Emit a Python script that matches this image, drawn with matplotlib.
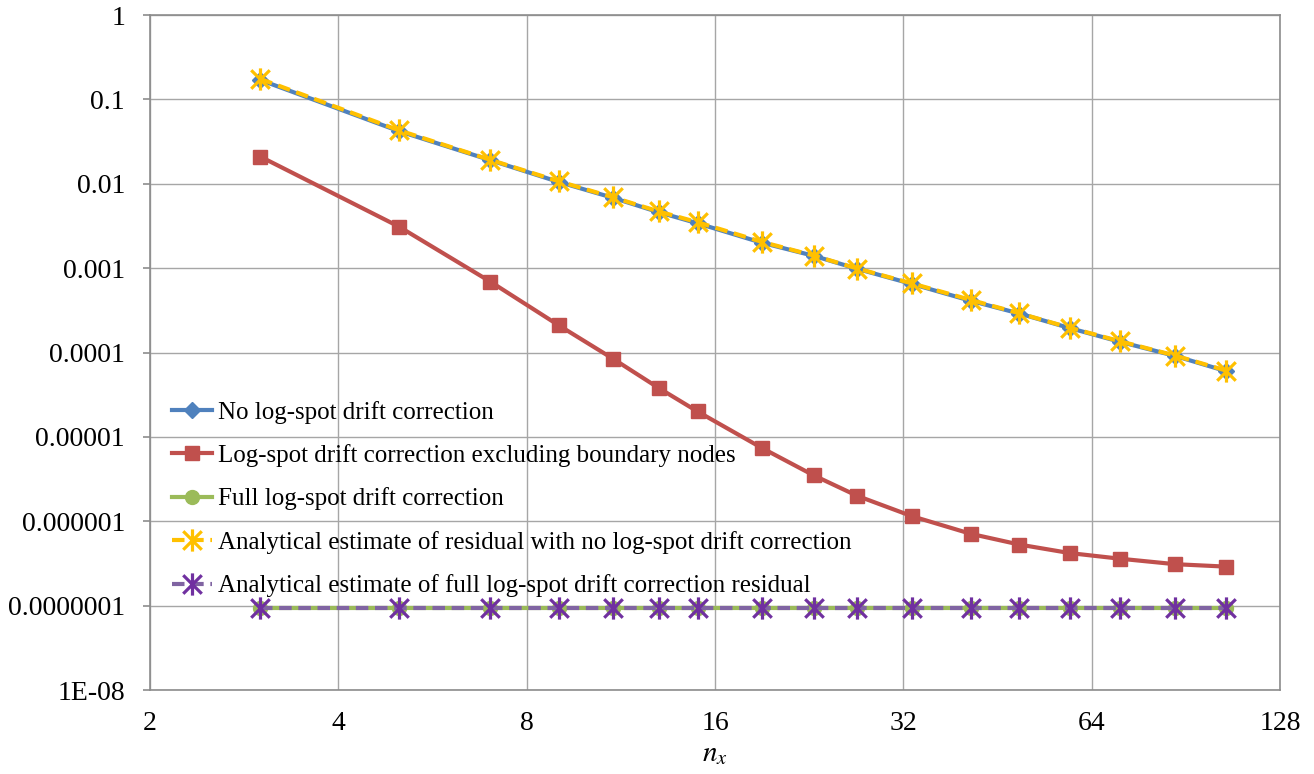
import matplotlib
matplotlib.use("Agg")
import matplotlib.pyplot as plt
from matplotlib.path import Path
from matplotlib.ticker import FixedLocator, NullLocator

plt.rcParams['font.family'] = ['Liberation Serif', 'DejaVu Serif']
plt.rcParams['mathtext.fontset'] = 'stix'

# data
nx = [3, 5, 7, 9, 11, 13, 15, 19, 23, 27, 33, 41, 49, 59, 71, 87, 105]
no_corr = [0.17, 0.042, 0.019, 0.0105, 0.0068, 0.0046, 0.0034, 0.0020, 0.0014, 0.00098,
           0.00065, 0.00041, 0.00029, 0.000195, 0.000134, 0.000091, 0.00006]
excl_boundary = [0.021, 0.0031, 0.00069, 0.00021, 0.000084, 0.000038, 0.00002, 0.0000074,
                 0.0000035, 0.0000020, 0.00000115, 7.1e-7, 5.3e-7, 4.2e-7, 3.6e-7, 3.1e-7, 2.9e-7]
full_corr = [9.4e-8] * len(nx)
est_no_corr = [0.175, 0.043, 0.0192, 0.0107, 0.0069, 0.0047, 0.0035, 0.00205, 0.00141, 0.00099,
               0.00066, 0.00042, 0.000292, 0.000197, 0.000136, 0.000092, 0.000061]
est_full = [9.4e-8] * len(nx)

labels = ["No log-spot drift correction",
          "Log-spot drift correction excluding boundary nodes",
          "Full log-spot drift correction",
          "Analytical estimate of residual with no log-spot drift correction",
          "Analytical estimate of full log-spot drift correction residual"]

xticks = [2, 4, 8, 16, 32, 64, 128]
yticks = [1e-8, 1e-7, 1e-6, 1e-5, 1e-4, 1e-3, 1e-2, 1e-1, 1]
ylabels = ["1E-08", "0.0000001", "0.000001", "0.00001", "0.0001", "0.001", "0.01", "0.1", "1"]

# excel style star marker: x plus vertical bar
star = Path([(-1, -1), (1, 1), (-1, 1), (1, -1), (0, -1.2), (0, 1.2)],
            [Path.MOVETO, Path.LINETO, Path.MOVETO, Path.LINETO, Path.MOVETO, Path.LINETO])

fig = plt.figure(figsize=(13.14, 7.74), dpi=100)
ax = fig.add_axes([0.1142, 0.1085, 0.8600, 0.8721])

ax.plot(nx, no_corr, color="#4F81BD", lw=3.0, marker="D", ms=8, label=labels[0], zorder=3)
ax.plot(nx, excl_boundary, color="#C0504D", lw=3.0, marker="s", ms=9.5, label=labels[1], zorder=3)
ax.plot(nx, full_corr, color="#9BBB59", lw=3.0, marker="o", ms=10, label=labels[2], zorder=3)
ax.plot(nx, est_no_corr, color="#FFC000", lw=3.0, ls=(0, (3, 1.6)), marker=star, ms=16,
        mew=2.3, mec="#FFC000", label=labels[3], zorder=4)
ax.plot(nx, est_full, color="#8064A2", lw=3.0, ls=(0, (3, 1.6)), marker=star, ms=16,
        mew=2.3, mec="#7030A0", label=labels[4], zorder=4)

ax.set_xscale("log", base=2)
ax.set_yscale("log")
ax.set_xlim(2, 128)
ax.set_ylim(1e-8, 1)
ax.xaxis.set_major_locator(FixedLocator(xticks))
ax.xaxis.set_minor_locator(NullLocator())
ax.set_xticklabels([str(t) for t in xticks])
ax.yaxis.set_major_locator(FixedLocator(yticks))
ax.yaxis.set_minor_locator(NullLocator())
ax.set_yticklabels(ylabels)

ax.grid(True, color="#A6A6A6", lw=1.0)
ax.set_axisbelow(True)
for s in ax.spines.values():
    s.set_color("#8C8C8C")
    s.set_linewidth(1.2)
ax.tick_params(axis="both", labelsize=20, color="#8C8C8C", width=1.2)
ax.tick_params(axis="x", length=0, pad=15)
ax.tick_params(axis="y", length=5, pad=13)

ax.set_xlabel("$n_x$", fontsize=21, labelpad=4)

ax.legend(loc="center left", bbox_to_anchor=(0.0195, 0.283), frameon=False, fontsize=18,
          borderpad=0, borderaxespad=0, handlelength=1.6, handletextpad=0.24,
          labelspacing=0.82)

fig.savefig("out.png", dpi=100)
